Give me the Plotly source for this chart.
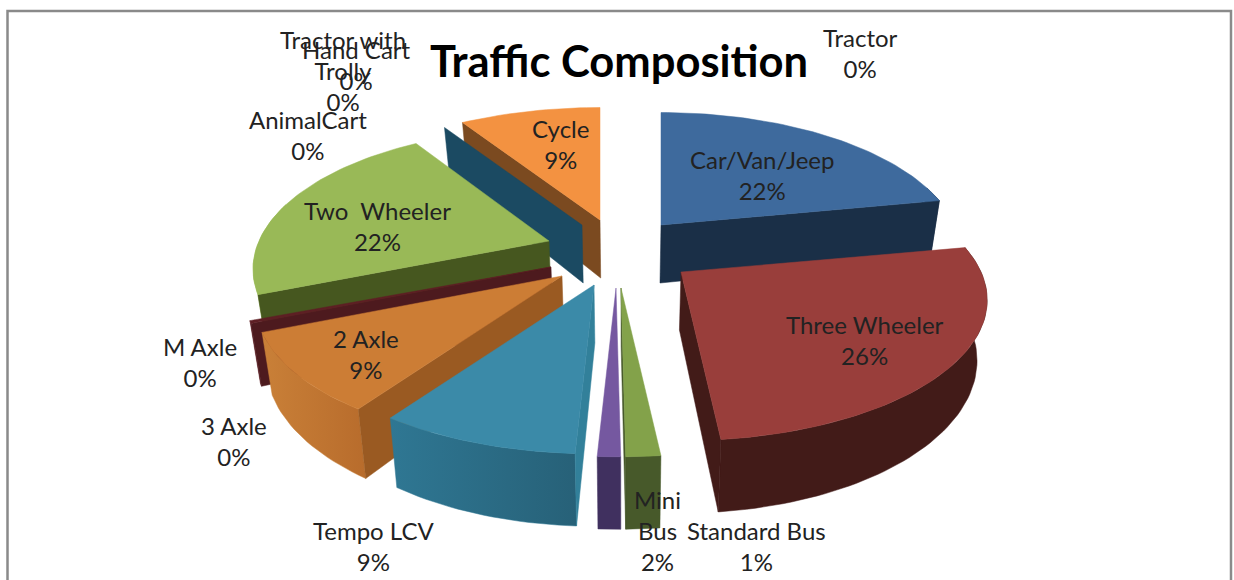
import math
import plotly.graph_objects as go

# ---- data ----
categories = ["Car/Van/Jeep", "Three Wheeler", "Mini<br>Bus", "Standard Bus", "Tempo LCV", "3 Axle",
              "2 Axle", "M Axle", "Two  Wheeler", "AnimalCart", "Tractor with<br>Trolly",
              "Hand Cart", "Cycle", "Tractor"]
values = [22.0, 26.3, 1.5, 1.0, 8.8, 0.0, 9.1, 0.3, 22.0, 0.0, 0.0, 0.0, 9.0, 0.0]
title_text = "Traffic Composition"

# ---- styling: top, outer wall (left and right ends), cut face ----
top_colors = ["#3e6a9d", "#993e3b", "#83a24a", "#7558a0", "#3b8aa8", None,
              "#cc7d35", "#5e1f24", "#99b957", "#1b4a62", None, None, "#f39241", None]
wall_left = ["#1a2f47", "#421b18", "#47592a", "#40305f", "#2f7793", None,
             "#c98038", "#5e1f24", "#a6c666", "#1b4a62", None, None, "#7b4a20", None]
wall_right = ["#1a2f47", "#421b18", "#47592a", "#40305f", "#276178", None,
              "#b86c2c", "#5e1f24", "#a6c666", "#1b4a62", None, None, "#7b4a20", None]
face_colors = ["#1a2f47", "#421b18", "#47592a", "#40305f", "#32809a", None,
               "#9a5a22", "#4d1a1e", "#46571f", "#1b4a62", None, None, "#7b4a20", None]
# where each exploded slice's point sits on the page, and its radius across the page
slice_tips = [(661, 225), (681, 272), (621, 288), (616, 288), (594, 285), None,
              (562, 276), (551, 267), (549, 241), (582, 225), None, None, (600, 220), None]
slice_radius = [294, 300, 300, 300, 300, None, 300, 300, 290, 300, None, None, 300, None]
paint_order = [0, 12, 9, 8, 7, 6, 4, 3, 2, 1]
label_pos = [(762, 175), (865, 340), (657, 530), (756, 546), (373, 546), (234, 441),
             (366, 354), (200, 362), (377, 226), (308, 135), (343, 70), (356, 65), (560, 144), (860, 53)]

RY, PERSP, DEPTH, VANISH_X, SHRINK = 135, 0.2, 58, 625, 0.972


def ground(tip, rx, deg):
    t = math.radians(deg)
    s = 1 / (1 + PERSP * math.cos(t))
    return tip[0] + rx * math.sin(t) * s, tip[1] - RY * math.cos(t) * s, s


def drop(x, y, s):
    return VANISH_X + (x - VANISH_X) * SHRINK, y + DEPTH * s


def poly(pts, color, color2=None):
    xs = [p[0] for p in pts] + [pts[0][0]]
    ys = [p[1] for p in pts] + [pts[0][1]]
    kw = dict(fillcolor=color)
    if color2 and color2 != color:
        kw = dict(fillgradient=dict(type="horizontal", colorscale=[[0, color], [1, color2]]))
    return go.Scatter(x=xs, y=ys, mode="lines", fill="toself", line=dict(color=color, width=0.5),
                      hoverinfo="skip", showlegend=False, **kw)


total = sum(values)
starts, acc = [], 0.0
for v in values:
    starts.append(acc / total * 360)
    acc += v

fig = go.Figure()
for i in paint_order:
    a0 = starts[i]
    a1 = a0 + values[i] / total * 360
    tip = slice_tips[i]
    rx = slice_radius[i]
    n = max(2, int((a1 - a0) / 1.5))
    angles = [a0 + (a1 - a0) * k / n for k in range(n + 1)]
    arc = [ground(tip, rx, a) for a in angles]
    tip_low = drop(tip[0], tip[1], 1.0)
    top_arc = [(p[0], p[1]) for p in arc]
    low_arc = [drop(*p) for p in arc]
    # outer wall: only the part of the rim that faces the viewer
    front = [k for k, a in enumerate(angles) if math.cos(math.radians(a)) < 0.3]
    if values[i] > 0 and len(front) >= 2:
        wall_top = [top_arc[k] for k in front]
        wall_low = [low_arc[k] for k in front]
        fig.add_trace(poly(wall_top + wall_low[::-1], wall_left[i], wall_right[i]))
    # the cut faces that look towards the viewer
    if math.sin(math.radians(a0)) < -1e-6:
        fig.add_trace(poly([tip, top_arc[0], low_arc[0], tip_low], face_colors[i]))
    if math.sin(math.radians(a1)) > 1e-6:
        fig.add_trace(poly([tip, top_arc[-1], low_arc[-1], tip_low], face_colors[i]))
    # top surface
    if values[i] > 0:
        fig.add_trace(poly([tip] + top_arc, top_colors[i]))

annotations = []
for name, v, (x, y) in zip(categories, values, label_pos):
    annotations.append(dict(x=x, y=y, xref="x", yref="y", showarrow=False, align="center",
                            xanchor="center", yanchor="middle",
                            text=f"{name}<br>{round(v)}%",
                            font=dict(family="Lato", size=24, color="#222222")))

fig.update_layout(
    width=1234, height=580, margin=dict(l=0, r=0, t=0, b=0),
    paper_bgcolor="white", plot_bgcolor="white", showlegend=False,
    xaxis=dict(range=[0, 1234], visible=False, fixedrange=True),
    yaxis=dict(range=[580, 0], visible=False, fixedrange=True),
    title=dict(text=f"<b>{title_text}</b>", x=619 / 1234, xanchor="center", y=1 - 62 / 580, yanchor="middle",
               font=dict(family="Lato", size=43.5, color="#000000")),
    annotations=annotations,
    shapes=[dict(type="rect", x0=7.5, x1=1231, y0=11, y1=620, xref="x", yref="y",
                 line=dict(color="#8a8a8a", width=2.5), layer="below")],
)
fig.write_html("out.html", config=dict(displayModeBar=False),
               post_script="document.body.style.margin='0';document.body.style.overflow='hidden';")
